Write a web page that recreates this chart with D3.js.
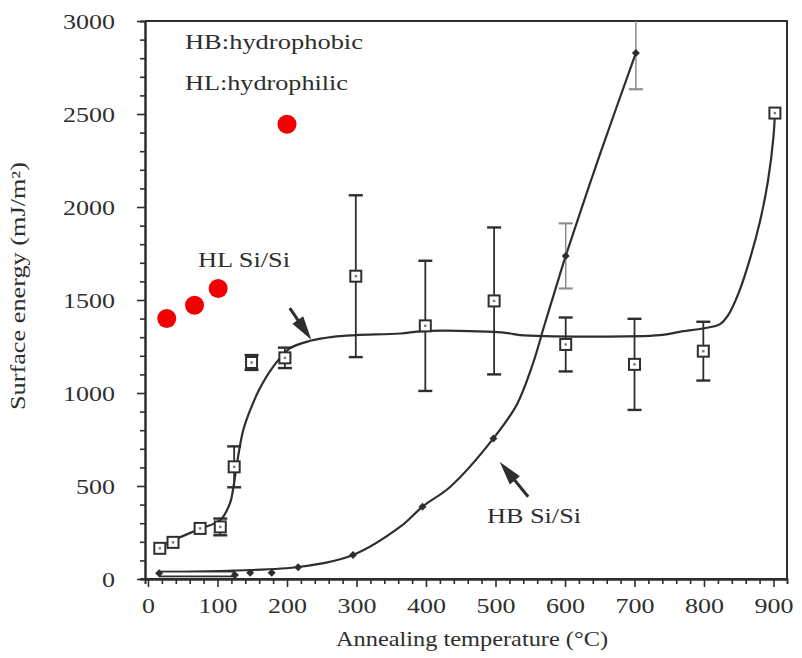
<!DOCTYPE html>
<html>
<head>
<meta charset="utf-8">
<script src="https://cdn.jsdelivr.net/npm/d3@7/dist/d3.min.js"></script>
<style>
  html, body { margin: 0; padding: 0; background: #fff; }
  svg { display: block; }
  text { font-family: "Liberation Serif", "Times New Roman", Times, serif; fill: #2e2e2e; }
</style>
</head>
<body>
<svg id="chart" width="802" height="658"></svg>
<script>
// ---------------- data ----------------
// HL Si/Si (hydrophilic) measured points
const hlTemp   = [17, 36, 75, 104, 124, 149, 197, 299, 399, 498, 601, 700, 799, 902];
const hlEnergy = [165, 197, 272, 280, 603, 1164, 1189, 1628, 1361, 1495, 1261, 1154, 1225, 2505];
const hlError  = [0, 0, 0, 45, 110, 40, 55, 435, 350, 395, 145, 245, 158, 0];
// HL fitted curve
const hlFitTemp   = [17, 40, 75, 104, 118, 123, 128, 137, 147, 161, 180, 204, 235, 266, 299, 363, 396, 497, 521, 535, 737, 765, 800, 823, 835, 850, 866, 881, 892, 900, 902];
const hlFitEnergy = [174, 215, 270, 317, 408, 496, 621, 800, 908, 1025, 1140, 1240, 1282, 1302, 1311, 1320, 1333, 1329, 1320, 1311, 1311, 1329, 1348, 1370, 1420, 1540, 1720, 1930, 2140, 2380, 2505];
// HB Si/Si (hydrophobic) measured points
const hbTemp   = [16, 125, 147, 178, 216, 295, 395, 497, 601, 702];
const hbEnergy = [31, 21, 34, 34, 63, 129, 389, 756, 1737, 2828];
const hbError  = [0, 0, 0, 0, 0, 0, 0, 0, 175, 195];
// HB fitted curve
const hbFitTemp   = [17, 123, 219, 295, 363, 395, 435, 497, 531, 554, 570, 588, 601, 650, 702];
const hbFitEnergy = [34, 45, 66, 129, 281, 389, 496, 756, 940, 1160, 1360, 1580, 1737, 2280, 2828];
// small open box drawn along the HB curve near the origin
const boxTemp   = [17, 123];
const boxEnergy = [14, 40];
// red dots
const redTemp   = [27, 67, 101, 200];
const redEnergy = [1401, 1472, 1562, 2445];
// arrows [tailT, tailE, tipT, tipE]
const arrowHL = [204, 1456, 235, 1286];
const arrowHB = [547, 442, 506, 630];
// ticks
const xTicks = [0, 100, 200, 300, 400, 500, 600, 700, 800, 900];
const yTicks = [0, 500, 1000, 1500, 2000, 2500, 3000];

// ---------------- drawing ----------------
const svg = d3.select("#chart");
const ink = "#2e2e2e";

const x = d3.scaleLinear().domain([-4.3, 919.4]).range([145, 787]);
const y = d3.scaleLinear().domain([0, 3000]).range([579, 21]);

// frame (top and right)
svg.append("path")
  .attr("d", `M${x.range()[0]},${y(3000)}H${x.range()[1]}V${y(0)}`)
  .attr("fill", "none").attr("stroke", ink).attr("stroke-width", 2);

// x axis
const xMinor = d3.range(20, 901, 20).filter(v => v % 100 !== 0);
svg.append("g").attr("transform", `translate(0,${y(0)})`)
  .call(d3.axisBottom(x).tickValues(xMinor).tickSize(5).tickFormat(""));
const gx = svg.append("g").attr("transform", `translate(0,${y(0)})`)
  .call(d3.axisBottom(x).tickValues(xTicks).tickSize(8).tickSizeOuter(0).tickPadding(10).tickFormat(d3.format("d")));
svg.append("line").attr("x1", 140).attr("x2", x.range()[1]).attr("y1", y(0)).attr("y2", y(0))
  .attr("stroke", ink).attr("stroke-width", 2);

// y axis
const yMinor = d3.range(100, 3000, 100).filter(v => v % 500 !== 0);
svg.append("g").attr("transform", `translate(${x.range()[0]},0)`)
  .call(d3.axisLeft(y).tickValues(yMinor).tickSize(5).tickFormat(""));
const gy = svg.append("g").attr("transform", `translate(${x.range()[0]},0)`)
  .call(d3.axisLeft(y).tickValues(yTicks).tickSize(8).tickSizeOuter(0).tickPadding(22).tickFormat(d3.format("d")));

svg.selectAll(".domain").attr("stroke", ink).attr("stroke-width", 2);
svg.selectAll(".tick line").attr("stroke", ink).attr("stroke-width", 1.6);
[gx, gy].forEach(g => g.selectAll(".tick text")
  .style("font-family", "'Liberation Serif', 'Times New Roman', serif")
  .attr("font-size", 22)
  .style("fill", ink)
  .attr("textLength", d => String(d).length * 13)
  .attr("lengthAdjust", "spacingAndGlyphs"));

// axis titles
svg.append("text").attr("x", 472).attr("y", 646).attr("text-anchor", "middle")
  .attr("font-size", 21).attr("textLength", 272).attr("lengthAdjust", "spacingAndGlyphs")
  .text("Annealing temperature (°C)");
svg.append("text").attr("transform", "translate(25,286) rotate(-90)").attr("text-anchor", "middle")
  .attr("font-size", 20).attr("textLength", 248).attr("lengthAdjust", "spacingAndGlyphs")
  .text("Surface  energy  (mJ/m²)");

// annotations
const ann = [
  ["HB:hydrophobic", 185, 49, 178],
  ["HL:hydrophilic", 185, 90, 163],
  ["HL Si/Si", 198, 267, 92],
  ["HB Si/Si", 487, 523, 94]
];
ann.forEach(a => svg.append("text").attr("x", a[1]).attr("y", a[2]).attr("font-size", 22)
  .attr("textLength", a[3]).attr("lengthAdjust", "spacingAndGlyphs").text(a[0]));

// curves
const line = d3.line().x(d => x(d[0])).y(d => y(d[1])).curve(d3.curveCatmullRom.alpha(0.5));
svg.append("path").datum(d3.zip(hlFitTemp, hlFitEnergy)).attr("d", line)
  .attr("fill", "none").attr("stroke", ink).attr("stroke-width", 2.2);
svg.append("path").datum(d3.zip(hbFitTemp, hbFitEnergy)).attr("d", line)
  .attr("fill", "none").attr("stroke", ink).attr("stroke-width", 2.2);

// small box near origin
svg.append("rect")
  .attr("x", x(boxTemp[0])).attr("y", y(boxEnergy[1]))
  .attr("width", x(boxTemp[1]) - x(boxTemp[0])).attr("height", y(boxEnergy[0]) - y(boxEnergy[1]))
  .attr("fill", "#fff").attr("stroke", ink).attr("stroke-width", 1.8);

// error bars
function errorBars(ts, es, errs, color, width) {
  const g = svg.append("g");
  ts.forEach((t, i) => {
    if (!errs[i]) return;
    const cx = x(t);
    const top = y(Math.min(3000, es[i] + errs[i]));
    const bot = y(es[i] - errs[i]);
    g.append("line").attr("x1", cx).attr("x2", cx).attr("y1", top).attr("y2", bot)
      .attr("stroke", color).attr("stroke-width", width);
    [es[i] + errs[i], es[i] - errs[i]].forEach(v => {
      if (v > 3000) return;
      g.append("line").attr("x1", cx - 7).attr("x2", cx + 7).attr("y1", y(v)).attr("y2", y(v))
        .attr("stroke", color).attr("stroke-width", width + 0.6);
    });
  });
}
errorBars(hlTemp, hlEnergy, hlError, ink, 1.8);
errorBars(hbTemp, hbEnergy, hbError, "#8a8a8a", 1.5);

// HL square markers
const sq = svg.append("g");
hlTemp.forEach((t, i) => {
  const cx = x(t), cy = y(hlEnergy[i]);
  sq.append("rect").attr("x", cx - 5.5).attr("y", cy - 5.5).attr("width", 11).attr("height", 11)
    .attr("fill", "#fff").attr("stroke", ink).attr("stroke-width", 2);
  sq.append("rect").attr("x", cx - 1.2).attr("y", cy - 1.2).attr("width", 2.4).attr("height", 2.4)
    .attr("fill", "#777");
});

// HB diamond markers
const dm = svg.append("g");
hbTemp.forEach((t, i) => {
  const cx = x(t), cy = y(hbEnergy[i]);
  dm.append("path").attr("d", `M${cx},${cy - 4}L${cx + 4},${cy}L${cx},${cy + 4}L${cx - 4},${cy}Z`)
    .attr("fill", ink);
});

// arrows
function arrow(a, headLen, headW) {
  const x1 = x(a[0]), y1 = y(a[1]), x2 = x(a[2]), y2 = y(a[3]);
  const dx = x2 - x1, dy = y2 - y1, L = Math.hypot(dx, dy);
  const ux = dx / L, uy = dy / L, px = -uy, py = ux;
  const bx = x2 - ux * headLen, by = y2 - uy * headLen;
  svg.append("line").attr("x1", x1).attr("y1", y1).attr("x2", bx + ux * 6).attr("y2", by + uy * 6)
    .attr("stroke", ink).attr("stroke-width", 3);
  svg.append("path")
    .attr("d", `M${x2},${y2}L${bx + px * headW},${by + py * headW}L${bx - px * headW},${by - py * headW}Z`)
    .attr("fill", ink);
}
arrow(arrowHL, 24, 6.5);
arrow(arrowHB, 24, 6.5);

// red dots
svg.append("g").selectAll("circle").data(d3.zip(redTemp, redEnergy)).join("circle")
  .attr("cx", d => x(d[0])).attr("cy", d => y(d[1])).attr("r", 9.5).attr("fill", "#f20000");
</script>
</body>
</html>
